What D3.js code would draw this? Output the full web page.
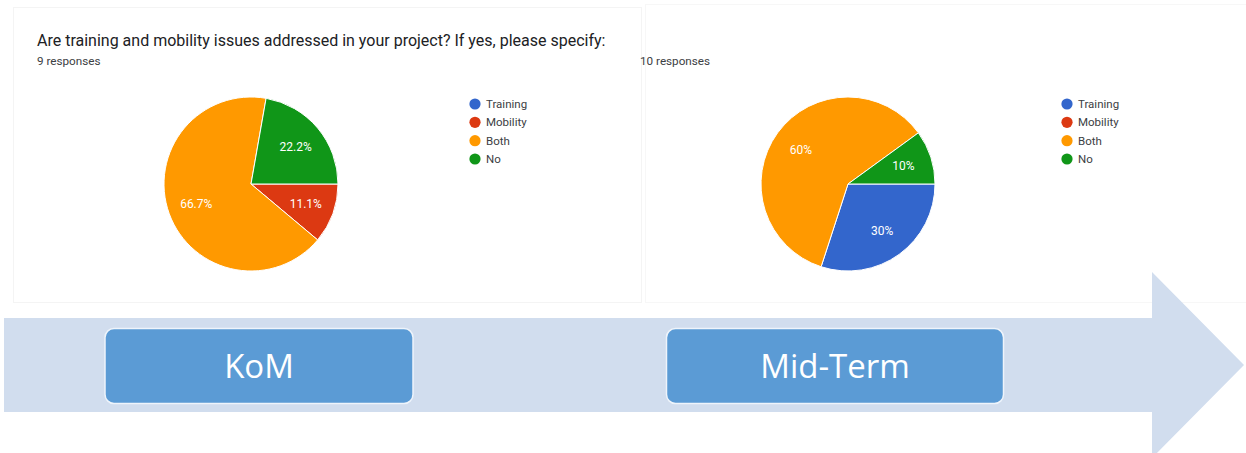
<!DOCTYPE html>
<html>
<head>
<meta charset="utf-8">
<script src="https://cdn.jsdelivr.net/npm/d3@7"></script>
<style>
  html, body { margin: 0; padding: 0; background: #fff; }
  svg { display: block; }
</style>
</head>
<body>
<div id="chart"></div>
<script>
(function () {
  "use strict";

  // Data
  var CATEGORIES = ["Training", "Mobility", "Both", "No"];
  var COLORS = ["#3366cc", "#dc3912", "#ff9900", "#109618"];
  var STAGES = ["KoM", "Mid-Term"];
  var KOM_COUNTS = [0, 1, 6, 2];
  var MIDTERM_COUNTS = [3, 0, 6, 1];
  var RESPONSES = ["9 responses", "10 responses"];
  var TITLE = "Are training and mobility issues addressed in your project? If yes, please specify:";

  var W = 1246, H = 453;
  var R = 87;

  var svg = d3.select("#chart").append("svg")
    .attr("width", W)
    .attr("height", H)
    .attr("viewBox", "0 0 " + W + " " + H);

  // white "screenshot" cards
  svg.append("rect").attr("x", 13.5).attr("y", 7.5).attr("width", 628).attr("height", 295)
    .attr("fill", "#fff").attr("stroke", "#f4f4f4");
  svg.append("rect").attr("x", 645.5).attr("y", 4.5).attr("width", 610).attr("height", 298)
    .attr("fill", "#fff").attr("stroke", "#f7f7f7");

  // timeline arrow
  var arrow = d3.path();
  arrow.moveTo(4, 318);
  arrow.lineTo(1152, 318);
  arrow.lineTo(1152, 272);
  arrow.lineTo(1244, 365);
  arrow.lineTo(1152, 458);
  arrow.lineTo(1152, 412);
  arrow.lineTo(4, 412);
  arrow.closePath();
  svg.append("path").attr("d", arrow.toString()).attr("fill", "#d1ddee");

  var pieX = d3.scaleOrdinal().domain(STAGES).range([251, 848]);
  var legendX = d3.scaleOrdinal().domain(STAGES).range([475, 1067]);
  var boxX = d3.scaleOrdinal().domain(STAGES).range([259, 835]);
  var boxW = d3.scaleOrdinal().domain(STAGES).range([308, 337]);
  var color = d3.scaleOrdinal().domain(CATEGORIES).range(COLORS);
  var legendY = d3.scalePoint().domain(CATEGORIES).range([104, 159]);

  var pie = d3.pie().sort(null).value(function (d) { return d.value; })
    .startAngle(Math.PI / 2).endAngle(Math.PI / 2 + 2 * Math.PI);
  var arc = d3.arc().innerRadius(0).outerRadius(R);
  var labelArc = d3.arc().innerRadius(R * 0.67).outerRadius(R * 0.67);

  function pct(v, total) {
    var s = (v / total * 100).toFixed(1);
    return s.replace(/\.0$/, "") + "%";
  }

  // question title (only once, on the left card)
  svg.append("text")
    .attr("x", 37).attr("y", 46)
    .attr("font-family", "Roboto, Arial, sans-serif")
    .attr("font-size", 16)
    .attr("fill", "#202124")
    .text(TITLE);

  [KOM_COUNTS, MIDTERM_COUNTS].forEach(function (counts, i) {
    var stage = STAGES[i];
    var total = d3.sum(counts);
    var data = CATEGORIES.map(function (c, j) { return { key: c, value: counts[j] }; });
    var cx = pieX(stage), cy = 184;

    svg.append("text")
      .attr("x", i === 0 ? 37 : 640).attr("y", 65)
      .attr("font-family", "Roboto, Arial, sans-serif")
      .attr("font-size", 11.7)
      .attr("fill", "#3c4043")
      .text(RESPONSES[i]);

    var g = svg.append("g").attr("transform", "translate(" + cx + "," + cy + ")");
    var slices = pie(data).filter(function (d) { return d.data.value > 0; });

    g.selectAll("path").data(slices).enter().append("path")
      .attr("d", arc)
      .attr("fill", function (d) { return color(d.data.key); })
      .attr("stroke", "#fff")
      .attr("stroke-width", 1);

    g.selectAll("text").data(slices).enter().append("text")
      .attr("transform", function (d) { return "translate(" + labelArc.centroid(d) + ")"; })
      .attr("text-anchor", "middle")
      .attr("dy", "0.35em")
      .attr("font-family", "Roboto, Arial, sans-serif")
      .attr("font-size", 12)
      .attr("fill", "#fff")
      .text(function (d) { return pct(d.data.value, total); });

    var lg = svg.append("g").attr("transform", "translate(" + legendX(stage) + ",0)");
    var rows = lg.selectAll("g").data(CATEGORIES).enter().append("g")
      .attr("transform", function (d) { return "translate(0," + legendY(d) + ")"; });
    rows.append("circle").attr("r", 5.6).attr("fill", function (d) { return color(d); });
    rows.append("text")
      .attr("x", 11).attr("dy", "0.35em")
      .attr("font-family", "Roboto, Arial, sans-serif")
      .attr("font-size", 11.5)
      .attr("fill", "#3c4043")
      .text(function (d) { return d; });

    // timeline stage box
    var bw = boxW(stage), bh = 75, bx = boxX(stage);
    svg.append("rect")
      .attr("x", bx - bw / 2).attr("y", 328.5)
      .attr("width", bw).attr("height", bh)
      .attr("rx", 9)
      .attr("fill", "#5b9bd5")
      .attr("stroke", "#eef4fb")
      .attr("stroke-width", 1.5);
    svg.append("text")
      .attr("x", bx).attr("y", 366)
      .attr("text-anchor", "middle")
      .attr("dy", "0.35em")
      .attr("font-family", "'Open Sans', 'DejaVu Sans', sans-serif")
      .attr("font-size", 33)
      .attr("fill", "#fff")
      .text(stage);
  });
})();
</script>
</body>
</html>
